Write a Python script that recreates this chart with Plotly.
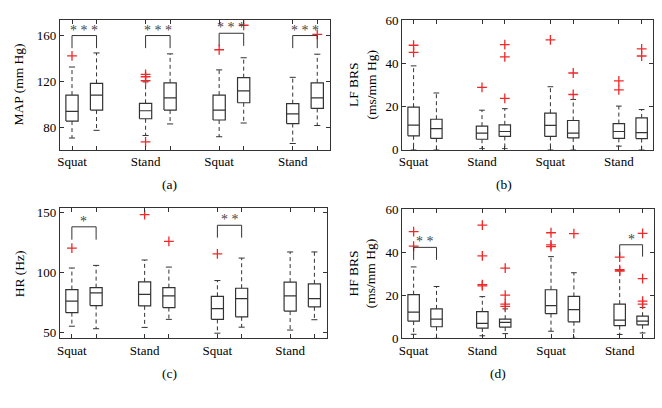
import plotly.graph_objects as go

# box positions: two boxes per group, four groups
positions = [1, 2, 4, 5, 7, 8, 10, 11]
group_labels = ["Squat", "Stand", "Squat", "Stand"]

# (a) MAP (mm Hg)
map_low = [70.5, 77.2, 72.7, 82.8, 71.6, 83.6, 65.7, 81.4]
map_q1 = [85.3, 94.9, 87.3, 94.9, 86.2, 101.3, 83.1, 96.3]
map_med = [93.7, 108.0, 94.3, 105.5, 94.9, 111.7, 91.5, 105.5]
map_q3 = [108.0, 118.2, 100.8, 118.7, 108.0, 123.2, 100.5, 118.7]
map_high = [132.5, 144.8, 119.5, 144.0, 130.0, 140.6, 123.5, 143.7]
map_out = [[142.3], [], [126.0, 124.0, 120.5, 67.1], [], [147.6], [169.0], [], [161.0]]
map_sig = [(0, 160, 149, "* * *"), (1, 160, 149, "* * *"), (2, 162, 151, "* * *"), (3, 160, 149, "* * *")]

# (b) LF BRS (ms/mm Hg)
lf_low = [0.0, 0.0, 0.4, 0.4, 0.0, 0.0, 1.6, 0.0]
lf_q1 = [6.4, 5.2, 4.8, 6.1, 6.1, 5.4, 5.2, 5.1]
lf_med = [11.4, 9.7, 7.6, 8.4, 11.2, 7.6, 8.4, 7.9]
lf_q3 = [19.7, 14.1, 10.9, 11.5, 16.9, 13.5, 12.1, 14.7]
lf_high = [38.9, 26.3, 18.3, 19.0, 29.2, 23.3, 20.2, 18.6]
lf_out = [[48.5, 45.2], [], [28.9], [48.8, 43.1, 23.8], [51.0], [35.6, 25.6], [31.9, 27.7], [46.8, 43.5]]
lf_sig = []

# (c) HR (Hz)
hr_low = [55.3, 53.2, 54.3, 61.0, 49.5, 54.5, 52.1, 60.7]
hr_q1 = [66.6, 72.5, 72.2, 70.8, 61.0, 63.1, 67.9, 71.4]
hr_med = [76.2, 83.1, 81.8, 80.5, 70.0, 78.3, 80.5, 78.3]
hr_q3 = [85.8, 87.4, 92.2, 87.4, 80.2, 86.9, 92.0, 90.6]
hr_high = [103.7, 105.9, 110.4, 104.5, 93.3, 112.0, 117.1, 117.1]
hr_out = [[120.3], [], [148.1], [125.9], [115.5], [], [], []]
hr_sig = [(0, 138, 127.3, "*"), (2, 139.3, 129, "* *")]

# (d) HF BRS (ms/mm Hg)
hf_low = [1.9, 0.0, 1.2, 2.2, 3.3, 0.0, 1.8, 2.5]
hf_q1 = [8.0, 5.4, 4.8, 5.2, 11.5, 7.7, 5.9, 6.3]
hf_med = [12.2, 8.9, 7.0, 7.4, 15.2, 13.4, 8.5, 8.0]
hf_q3 = [20.3, 13.7, 12.4, 8.9, 22.6, 19.5, 15.9, 10.3]
hf_high = [33.2, 24.1, 19.4, 13.7, 38.0, 30.5, 31.5, 14.4]
hf_out = [[49.6, 42.9], [], [52.6, 38.3, 25.0, 24.4], [32.6, 20.1, 15.9, 14.9],
          [49.1, 43.5, 42.6], [48.7], [37.8, 31.9, 31.3], [48.8, 27.8, 17.3, 15.9]]
hf_sig = [(0, 42.3, 36.5, "* *"), (3, 43.5, 38.0, "*")]

FONT = "Liberation Serif"
BOX_W = 0.5
CAP_W = 0.25
LINE = "#333333"
RED = "#f02828"

panels = [
    dict(low=map_low, q1=map_q1, med=map_med, q3=map_q3, high=map_high, out=map_out, sig=map_sig,
         yr=[60.4, 174], ticks=[80, 120, 160], title="MAP (mm Hg)", cap="(a)",
         dx=[57, 328], dy=[13, 148], tx=16, cx=167, cy=184),
    dict(low=lf_low, q1=lf_q1, med=lf_med, q3=lf_q3, high=lf_high, out=lf_out, sig=lf_sig,
         yr=[0, 60], ticks=[0, 20, 40, 60], title="LF BRS<br>(ms/mm Hg)", cap="(b)",
         dx=[401, 653], dy=[14, 148], tx=361, cx=503, cy=184),
    dict(low=hr_low, q1=hr_q1, med=hr_med, q3=hr_q3, high=hr_high, out=hr_out, sig=hr_sig,
         yr=[45.2, 153.4], ticks=[50, 100, 150], title="HR (Hz)", cap="(c)",
         dx=[57, 325], dy=[209, 344], tx=16, cx=167, cy=381),
    dict(low=hf_low, q1=hf_q1, med=hf_med, q3=hf_q3, high=hf_high, out=hf_out, sig=hf_sig,
         yr=[0, 60], ticks=[0, 20, 40, 60], title="HF BRS<br>(ms/mm Hg)", cap="(d)",
         dx=[401, 654], dy=[210, 344], tx=361, cx=497, cy=381),
]

W, H = 662, 408
fig = go.Figure()
annotations = []

for i, p in enumerate(panels):
    n = "" if i == 0 else str(i + 1)
    xa, ya = "x" + n, "y" + n
    bx, by = [], []
    wx, wy = [], []
    cx_, cy_ = [], []
    ox, oy = [], []
    for k, x in enumerate(positions):
        l, r = x - BOX_W / 2, x + BOX_W / 2
        bx += [l, r, r, l, l, None, l, r, None]
        by += [p["q1"][k], p["q1"][k], p["q3"][k], p["q3"][k], p["q1"][k], None,
               p["med"][k], p["med"][k], None]
        wx += [x, x, None, x, x, None]
        wy += [p["q3"][k], p["high"][k], None, p["q1"][k], p["low"][k], None]
        cl, cr = x - CAP_W / 2, x + CAP_W / 2
        cx_ += [cl, cr, None, cl, cr, None]
        cy_ += [p["high"][k], p["high"][k], None, p["low"][k], p["low"][k], None]
        for v in p["out"][k]:
            ox.append(x)
            oy.append(v)
    fig.add_trace(go.Scatter(x=wx, y=wy, mode="lines", xaxis=xa, yaxis=ya,
                             line=dict(color=LINE, width=1, dash="4px,3px"), showlegend=False))
    fig.add_trace(go.Scatter(x=cx_, y=cy_, mode="lines", xaxis=xa, yaxis=ya,
                             line=dict(color=LINE, width=1), showlegend=False))
    fig.add_trace(go.Scatter(x=bx, y=by, mode="lines", xaxis=xa, yaxis=ya,
                             line=dict(color=LINE, width=1.2), showlegend=False))
    fig.add_trace(go.Scatter(x=ox, y=oy, mode="markers", xaxis=xa, yaxis=ya,
                             marker=dict(symbol="cross-thin", size=7, line=dict(color=RED, width=1.3)),
                             showlegend=False))
    # significance brackets
    for g, top, leg, stars in p["sig"]:
        x0, x1 = positions[2 * g], positions[2 * g + 1]
        fig.add_trace(go.Scatter(x=[x0, x0, x1, x1], y=[leg, top, top, leg], mode="lines",
                                 xaxis=xa, yaxis=ya, line=dict(color=LINE, width=1),
                                 showlegend=False))
        annotations.append(dict(x=(x0 + x1) / 2, y=top, xref=xa, yref=ya, text=stars,
                                showarrow=False, xanchor="center", yanchor="bottom", yshift=-4,
                                font=dict(family=FONT, size=14, color="#444444")))

    tickvals = positions
    ticktext = [group_labels[k // 2] if k % 2 == 0 else "" for k in range(len(positions))]
    axis_common = dict(showline=True, linecolor=LINE, linewidth=1, mirror="ticks",
                       ticks="inside", ticklen=4, tickcolor=LINE, showgrid=False, zeroline=False,
                       tickfont=dict(family=FONT, size=13, color="black"))
    fig.layout["xaxis" + n] = dict(domain=[p["dx"][0] / W, p["dx"][1] / W], anchor=ya,
                                   range=[0.5, 11.5], tickvals=tickvals, ticktext=ticktext,
                                   **axis_common)
    fig.layout["yaxis" + n] = dict(domain=[1 - p["dy"][1] / H, 1 - p["dy"][0] / H], anchor=xa,
                                   range=p["yr"], tickvals=p["ticks"], **axis_common)
    annotations.append(dict(x=p["tx"] / W, y=1 - (p["dy"][0] + p["dy"][1]) / 2 / H,
                            xref="paper", yref="paper", text=p["title"], textangle=-90,
                            xanchor="center", yanchor="middle", showarrow=False,
                            font=dict(family=FONT, size=13.5, color="black")))
    annotations.append(dict(x=p["cx"] / W, y=1 - p["cy"] / H, xref="paper", yref="paper",
                            text=p["cap"], showarrow=False, xanchor="center", yanchor="middle",
                            font=dict(family=FONT, size=13.5, color="black")))

fig.update_layout(width=W, height=H, margin=dict(l=0, r=0, t=0, b=0),
                  paper_bgcolor="white", plot_bgcolor="white", annotations=annotations)
fig.write_html("out.html", config={"displayModeBar": False},
               post_script="document.body.style.margin='0px';")
